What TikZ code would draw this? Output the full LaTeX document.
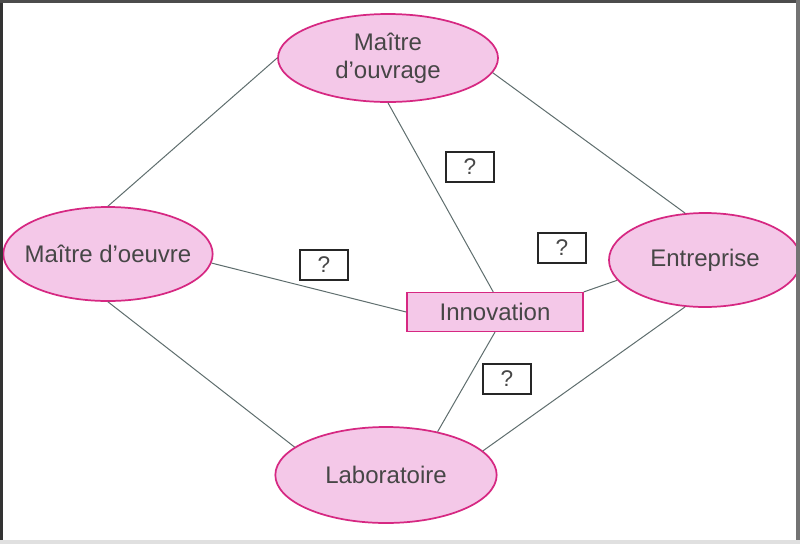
\documentclass[tikz,border=0pt]{standalone}
\usepackage{fontspec}
\setmainfont{Liberation Sans}
\usetikzlibrary{shapes.geometric}
\definecolor{pinkfill}{RGB}{244,200,232}
\definecolor{pinkline}{RGB}{214,40,130}
\definecolor{edgegray}{RGB}{95,110,110}
\definecolor{txtgray}{RGB}{70,70,70}
\tikzset{
  actor/.style={ellipse, draw=pinkline, line width=1.3pt, fill=pinkfill, inner sep=0pt},
  actortext/.style={text=txtgray, font=\fontsize{18}{21}\selectfont, align=center, inner sep=0pt},
  innovbox/.style={rectangle, draw=pinkline, line width=1.1pt, fill=pinkfill, inner sep=0pt, minimum width=132pt, minimum height=29pt, text=txtgray, font=\fontsize{18}{21}\selectfont},
  qbox/.style={rectangle, draw=black!85, line width=1.3pt, fill=white, inner sep=0pt, minimum width=36pt, minimum height=22.5pt, text=txtgray, font=\fontsize{17}{20}\selectfont},
  link/.style={draw=edgegray, line width=0.75pt}
}
\begin{document}
\begin{tikzpicture}[x=0.75pt,y=-0.75pt]
\useasboundingbox (0,0) rectangle (800,544);
% frame
\fill[white] (0,0) rectangle (800,544);
% nodes
\node[actor, minimum width=165pt, minimum height=66pt, label={[actortext]center:{Maître\\d'ouvrage}}] (mo) at (388,58) {};
\node[actor, minimum width=157pt, minimum height=70.5pt, label={[actortext]center:{Maître d'oeuvre}}] (moe) at (108,254) {};
\node[actor, minimum width=144pt, minimum height=70.5pt, label={[actortext]center:{Entreprise}}] (ent) at (705,260) {};
\node[actor, minimum width=166pt, minimum height=72pt, label={[actortext]center:{Laboratoire}}] (lab) at (386,475) {};
\node[innovbox] (inn) at (495,312) {Innovation};
\node[qbox] (q1) at (470,167) {?};
\node[qbox] (q2) at (324,265) {?};
\node[qbox] (q3) at (562,248) {?};
\node[qbox] (q4) at (507,379) {?};
% links
\draw[link] (mo.west) -- (moe.north);
\draw[link] (mo.-8) -- (ent.113);
\draw[link] (mo.south) -- (inn.95);
\draw[link] (moe.-5) -- (inn.west);
\draw[link] (moe.south) -- (lab.163);
\draw[link] (ent.193) -- (inn.north east);
\draw[link] (ent.247) -- (lab.14);
\draw[link] (inn.south) -- (lab.40);
% frame edges
\fill[black!80] (0,0) rectangle (3,544);
\fill[black!70] (0,0) rectangle (800,3);
\fill[black!55] (796,0) rectangle (800,544);
\fill[black!12] (0,540) rectangle (800,544);
\end{tikzpicture}
\end{document}
